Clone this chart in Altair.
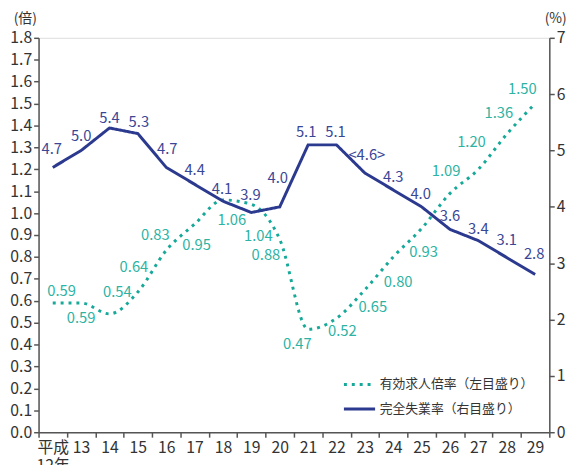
import altair as alt
import pandas as pd

years = ["12", "13", "14", "15", "16", "17", "18", "19", "20", "21",
         "22", "23", "24", "25", "26", "27", "28", "29"]
ratio = [0.59, 0.59, 0.54, 0.64, 0.83, 0.95, 1.06, 1.04, 0.88, 0.47,
         0.52, 0.65, 0.80, 0.93, 1.09, 1.20, 1.36, 1.50]
unemp = [4.7, 5.0, 5.4, 5.3, 4.7, 4.4, 4.1, 3.9, 4.0, 5.1,
         5.1, 4.6, 4.3, 4.0, 3.6, 3.4, 3.1, 2.8]
unemp_labels = ["4.7", "5.0", "5.4", "5.3", "4.7", "4.4", "4.1", "3.9", "4.0", "5.1",
                "5.1", "<4.6>", "4.3", "4.0", "3.6", "3.4", "3.1", "2.8"]
ratio_labels = ["0.59", "0.59", "0.54", "0.64", "0.83", "0.95", "1.06", "1.04", "0.88",
                "0.47", "0.52", "0.65", "0.80", "0.93", "1.09", "1.20", "1.36", "1.50"]
series_names = ["有効求人倍率（左目盛り）", "完全失業率（右目盛り）"]

# label offsets (style only)
ratio_dx = [9, 0, 8, -4, -11, 2, 9, 7, -14, -11, 6, 8, 5, 2, -4, -7, -8, -13]
ratio_dy = [-12, 15, -22, -25, -15, 21, 20, 32, 16, 15, 13, 18, 25, 24, -23, -28, -21, -15]
unemp_dx = [-1, 0, 0, 1, 1, 0, -1, -1, -2, -2, -1, 2, 0, -1, 0, 0, 0, -1]
unemp_dy = [-19, -15, -10, -12, -19, -14, -12, -18, -29, -13, -13, -18, -13, -13, -14, -12, -18, -21]

df = pd.DataFrame({
    "year": years, "ratio": ratio, "unemp": unemp,
    "rlab": ratio_labels, "ulab": unemp_labels,
    "rdx": ratio_dx, "rdy": ratio_dy, "udx": unemp_dx, "udy": unemp_dy,
})
df["s1"] = series_names[0]
df["s2"] = series_names[1]

teal = "#16A898"
teal_txt = "#2DB3A3"
navy = "#2B3A8F"
navy_txt = "#3A4797"
font = "Noto Sans CJK JP"

xenc = alt.X("year:N", sort=years, bandPosition=0.5,
             scale=alt.Scale(type="band", paddingInner=0, paddingOuter=0),
             axis=alt.Axis(title=None, tickBand="extent", labelAngle=0,
                           labelExpr="datum.value == '12' ? ['平成', '12年'] : datum.label",
                           labelFontSize=16, labelColor="#333", tickSize=5,
                           labelPadding=3, labelLineHeight=18,
                           domainColor="#555", tickColor="#555",
                           domainWidth=1.5, tickWidth=1.5, labelFont=font))

color_scale = alt.Scale(domain=series_names, range=[teal, navy])
dash_scale = alt.Scale(domain=series_names, range=[[3, 5], [1, 0]])
legend = alt.Legend(title=None, orient="none", legendX=308, legendY=334,
                    symbolType="stroke", symbolSize=1000, symbolStrokeWidth=3,
                    labelFontSize=13, labelColor="#333", labelFont=font,
                    rowPadding=-6, labelOffset=3)

lscale = alt.Scale(domain=[0, 1.8], nice=False)
rscale = alt.Scale(domain=[0, 7], nice=False)

yl_axis = alt.Axis(values=[i / 10 for i in range(19)], format=".1f",
                   title="(倍)", titleAngle=0, titleX=-14, titleY=-20,
                   titleAlign="center", titleBaseline="middle",
                   titleFontSize=14, titleFontWeight="normal",
                   titleColor="#333", titleFont=font, labelFont=font,
                   labelFontSize=16, labelColor="#333", tickSize=5,
                   labelPadding=2, domainColor="#555", tickColor="#555",
                   domainWidth=1.5, tickWidth=1.5, grid=False)
yr_axis = alt.Axis(orient="right", values=list(range(8)),
                   title="(%)", titleAngle=0, titleX=6, titleY=-20,
                   titleAlign="center", titleBaseline="middle",
                   titleFontSize=14, titleFontWeight="normal",
                   titleColor="#333", titleFont=font, labelFont=font,
                   labelFontSize=16, labelColor="#333", tickSize=5,
                   labelPadding=2, domainColor="#555", tickColor="#555",
                   domainWidth=1.5, tickWidth=1.5, grid=False)

base = alt.Chart(df)

ratio_line = base.mark_line(strokeWidth=3, interpolate="monotone", strokeCap="butt").encode(
    x=xenc, y=alt.Y("ratio:Q", scale=lscale, axis=yl_axis),
    color=alt.Color("s1:N", scale=color_scale, legend=legend),
    strokeDash=alt.StrokeDash("s1:N", scale=dash_scale, legend=legend),
)
rtext = base.mark_text(fontSize=15, color=teal_txt, font=font,
                       dx=alt.ExprRef("datum.rdx"), dy=alt.ExprRef("datum.rdy")).encode(
    x=xenc, y=alt.Y("ratio:Q", scale=lscale, axis=yl_axis),
    text="rlab:N",
)

unemp_line = base.mark_line(strokeWidth=3).encode(
    x=xenc, y=alt.Y("unemp:Q", scale=rscale, axis=yr_axis),
    color=alt.Color("s2:N", scale=color_scale, legend=legend),
    strokeDash=alt.StrokeDash("s2:N", scale=dash_scale, legend=legend),
)
utext = base.mark_text(fontSize=15, color=navy_txt, font=font,
                       dx=alt.ExprRef("datum.udx"), dy=alt.ExprRef("datum.udy")).encode(
    x=xenc, y=alt.Y("unemp:Q", scale=rscale, axis=yr_axis),
    text="ulab:N",
)

leftl = alt.layer(ratio_line, rtext)
rightl = alt.layer(unemp_line, utext)

chart = alt.layer(leftl, rightl).resolve_scale(y="independent").properties(
    width=518, height=400,
    padding={"left": 31, "top": 27, "right": 22, "bottom": 30},
    autosize=alt.AutoSizeParams(type="none"),
).configure_view(fill="#FEFCE6", strokeWidth=0).configure(
    font=font
)

chart.save("out.html", embed_options={"renderer": "svg", "actions": False})
